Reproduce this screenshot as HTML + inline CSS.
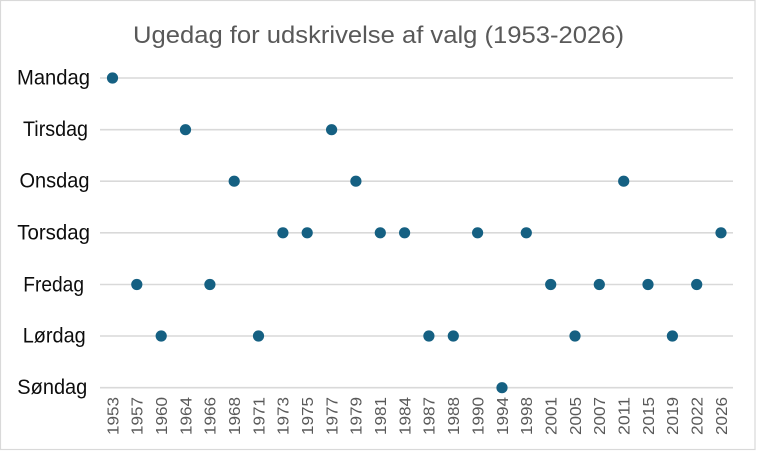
<!DOCTYPE html>
<html>
<head>
<meta charset="utf-8">
<style>
  html, body { margin: 0; padding: 0; background: #ffffff; }
  svg { display: block; }
  text { font-family: "Liberation Sans", "DejaVu Sans", sans-serif; }
</style>
</head>
<body>
<svg width="757" height="452" viewBox="0 0 757 452" xmlns="http://www.w3.org/2000/svg">
  <rect x="0" y="0" width="757" height="452" fill="#ffffff"/>
  <rect x="0.5" y="0.5" width="754.5" height="449" fill="#ffffff" stroke="#d9d9d9" stroke-width="1.2"/>

  <!-- Title -->
  <text x="133" y="43" font-size="24" fill="#595959" textLength="491" lengthAdjust="spacingAndGlyphs">Ugedag for udskrivelse af valg (1953-2026)</text>

  <!-- Gridlines -->
  <g stroke="#d9d9d9" stroke-width="1.6">
    <line x1="100" y1="78" x2="733" y2="78"/>
    <line x1="100" y1="129.7" x2="733" y2="129.7"/>
    <line x1="100" y1="181.2" x2="733" y2="181.2"/>
    <line x1="100" y1="232.8" x2="733" y2="232.8"/>
    <line x1="100" y1="284.5" x2="733" y2="284.5"/>
    <line x1="100" y1="336" x2="733" y2="336"/>
    <line x1="100" y1="387.7" x2="733" y2="387.7"/>
  </g>

  <!-- Y labels -->
  <g font-size="21" fill="#0d0d0d">
    <text x="17" y="84.5" textLength="73" lengthAdjust="spacingAndGlyphs">Mandag</text>
    <text x="23" y="136.2" textLength="65" lengthAdjust="spacingAndGlyphs">Tirsdag</text>
    <text x="19.5" y="187.7" textLength="70" lengthAdjust="spacingAndGlyphs">Onsdag</text>
    <text x="17.3" y="239.5" textLength="72.7" lengthAdjust="spacingAndGlyphs">Torsdag</text>
    <text x="23.3" y="291.5" textLength="60.7" lengthAdjust="spacingAndGlyphs">Fredag</text>
    <text x="22.7" y="342.5" textLength="63" lengthAdjust="spacingAndGlyphs">Lørdag</text>
    <text x="17.3" y="394.2" textLength="70" lengthAdjust="spacingAndGlyphs">Søndag</text>
  </g>

  <!-- X tick labels -->
  <g font-size="16" fill="#595959" text-anchor="end">
    <text transform="translate(118.3,397) rotate(-90)" textLength="38" lengthAdjust="spacingAndGlyphs">1953</text>
    <text transform="translate(142.6,397) rotate(-90)" textLength="38" lengthAdjust="spacingAndGlyphs">1957</text>
    <text transform="translate(167.0,397) rotate(-90)" textLength="38" lengthAdjust="spacingAndGlyphs">1960</text>
    <text transform="translate(191.3,397) rotate(-90)" textLength="38" lengthAdjust="spacingAndGlyphs">1964</text>
    <text transform="translate(215.7,397) rotate(-90)" textLength="38" lengthAdjust="spacingAndGlyphs">1966</text>
    <text transform="translate(240.0,397) rotate(-90)" textLength="38" lengthAdjust="spacingAndGlyphs">1968</text>
    <text transform="translate(264.3,397) rotate(-90)" textLength="38" lengthAdjust="spacingAndGlyphs">1971</text>
    <text transform="translate(288.7,397) rotate(-90)" textLength="38" lengthAdjust="spacingAndGlyphs">1973</text>
    <text transform="translate(313.0,397) rotate(-90)" textLength="38" lengthAdjust="spacingAndGlyphs">1975</text>
    <text transform="translate(337.4,397) rotate(-90)" textLength="38" lengthAdjust="spacingAndGlyphs">1977</text>
    <text transform="translate(361.7,397) rotate(-90)" textLength="38" lengthAdjust="spacingAndGlyphs">1979</text>
    <text transform="translate(386.1,397) rotate(-90)" textLength="38" lengthAdjust="spacingAndGlyphs">1981</text>
    <text transform="translate(410.4,397) rotate(-90)" textLength="38" lengthAdjust="spacingAndGlyphs">1984</text>
    <text transform="translate(434.7,397) rotate(-90)" textLength="38" lengthAdjust="spacingAndGlyphs">1987</text>
    <text transform="translate(459.1,397) rotate(-90)" textLength="38" lengthAdjust="spacingAndGlyphs">1988</text>
    <text transform="translate(483.4,397) rotate(-90)" textLength="38" lengthAdjust="spacingAndGlyphs">1990</text>
    <text transform="translate(507.8,397) rotate(-90)" textLength="38" lengthAdjust="spacingAndGlyphs">1994</text>
    <text transform="translate(532.1,397) rotate(-90)" textLength="38" lengthAdjust="spacingAndGlyphs">1998</text>
    <text transform="translate(556.5,397) rotate(-90)" textLength="38" lengthAdjust="spacingAndGlyphs">2001</text>
    <text transform="translate(580.8,397) rotate(-90)" textLength="38" lengthAdjust="spacingAndGlyphs">2005</text>
    <text transform="translate(605.1,397) rotate(-90)" textLength="38" lengthAdjust="spacingAndGlyphs">2007</text>
    <text transform="translate(629.5,397) rotate(-90)" textLength="38" lengthAdjust="spacingAndGlyphs">2011</text>
    <text transform="translate(653.8,397) rotate(-90)" textLength="38" lengthAdjust="spacingAndGlyphs">2015</text>
    <text transform="translate(678.2,397) rotate(-90)" textLength="38" lengthAdjust="spacingAndGlyphs">2019</text>
    <text transform="translate(702.5,397) rotate(-90)" textLength="38" lengthAdjust="spacingAndGlyphs">2022</text>
    <text transform="translate(726.8,397) rotate(-90)" textLength="38" lengthAdjust="spacingAndGlyphs">2026</text>
  </g>

  <!-- Markers -->
  <g fill="#156082">
    <circle cx="112.5" cy="78" r="5.6"/>
    <circle cx="136.8" cy="284.5" r="5.6"/>
    <circle cx="161.2" cy="336" r="5.6"/>
    <circle cx="185.5" cy="129.7" r="5.6"/>
    <circle cx="209.9" cy="284.5" r="5.6"/>
    <circle cx="234.2" cy="181.2" r="5.6"/>
    <circle cx="258.5" cy="336" r="5.6"/>
    <circle cx="282.9" cy="232.8" r="5.6"/>
    <circle cx="307.2" cy="232.8" r="5.6"/>
    <circle cx="331.6" cy="129.7" r="5.6"/>
    <circle cx="355.9" cy="181.2" r="5.6"/>
    <circle cx="380.3" cy="232.8" r="5.6"/>
    <circle cx="404.6" cy="232.8" r="5.6"/>
    <circle cx="428.9" cy="336" r="5.6"/>
    <circle cx="453.3" cy="336" r="5.6"/>
    <circle cx="477.6" cy="232.8" r="5.6"/>
    <circle cx="502.0" cy="387.7" r="5.6"/>
    <circle cx="526.3" cy="232.8" r="5.6"/>
    <circle cx="550.7" cy="284.5" r="5.6"/>
    <circle cx="575.0" cy="336" r="5.6"/>
    <circle cx="599.3" cy="284.5" r="5.6"/>
    <circle cx="623.7" cy="181.2" r="5.6"/>
    <circle cx="648.0" cy="284.5" r="5.6"/>
    <circle cx="672.4" cy="336" r="5.6"/>
    <circle cx="696.7" cy="284.5" r="5.6"/>
    <circle cx="721.0" cy="232.8" r="5.6"/>
  </g>
</svg>
</body>
</html>
